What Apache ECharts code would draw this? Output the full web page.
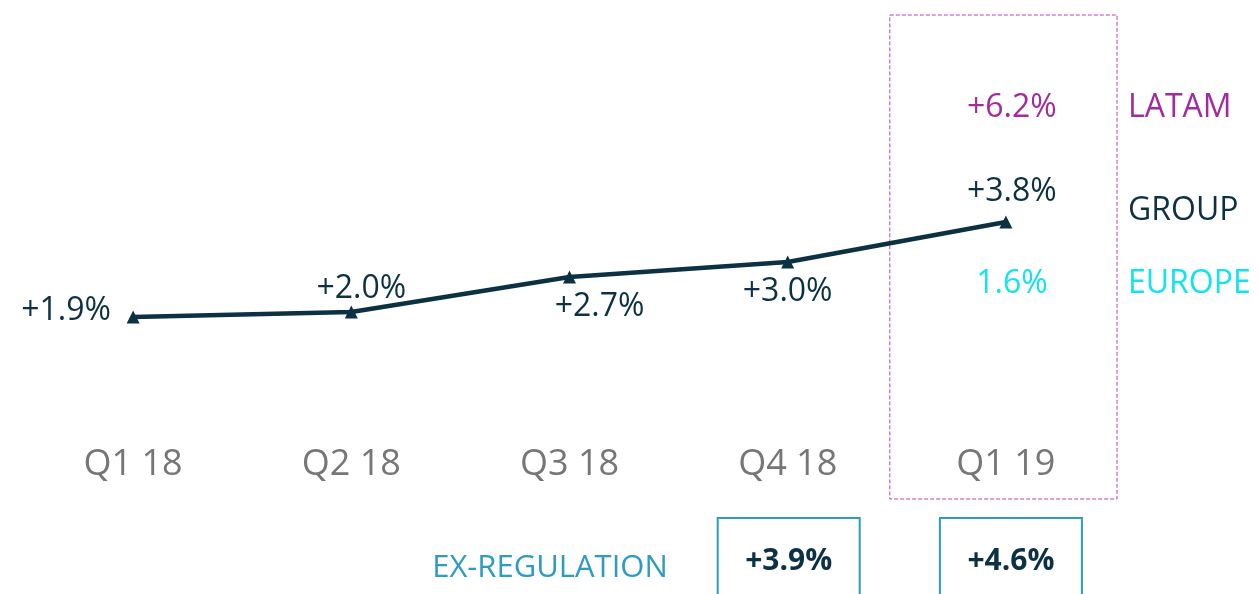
<!DOCTYPE html>
<html>
<head>
<meta charset="utf-8">
<script src="https://cdn.jsdelivr.net/npm/echarts@6/dist/echarts.min.js"></script>
<style>
  html, body { margin: 0; padding: 0; background: #fff; }
  #main { width: 1258px; height: 594px; }
</style>
</head>
<body>
<div id="main"></div>
<script>
// quarters and group growth (%)
const categories = ['Q1 18', 'Q2 18', 'Q3 18', 'Q4 18', 'Q1 19'];
const groupGrowth = [1.9, 2.0, 2.7, 3.0, 3.8];

// Q1 19 split by region
const regionNames = ['LATAM', 'GROUP', 'EUROPE'];
const latamQ119 = 6.2;
const europeQ119 = 1.6;

// ex-regulation growth
const exRegCategories = ['Q4 18', 'Q1 19'];
const exRegValues = [3.9, 4.6];

const dark = '#0b3142';
const purple = '#a12c9f';
const cyan = '#12e3ef';
const blue = '#2f9bc0';
const font = 'Open Sans';

// label placement around each point (dx, dy from the marker)
const labelOffsets = [[-67, -6], [10, -23], [30, 30], [0, 30], [6, -30]];

const fmt = v => '+' + v.toFixed(1) + '%';

const chart = echarts.init(document.getElementById('main'));

const option = {
  animation: false,
  grid: { left: 24, right: 143, top: 12, bottom: 182 },
  xAxis: {
    type: 'category',
    data: categories,
    boundaryGap: true,
    axisLine: { show: false },
    axisTick: { show: false },
    splitLine: { show: false },
    axisLabel: {
      margin: 35,
      fontFamily: font,
      fontSize: 36,
      lineHeight: 36,
      color: '#767676'
    }
  },
  yAxis: {
    type: 'value',
    min: 0,
    max: 8,
    show: false
  },
  series: [
    {
      type: 'line',
      data: groupGrowth.map((v, i) => ({
        value: v,
        label: { offset: labelOffsets[i] }
      })),
      symbol: 'triangle',
      symbolSize: 13,
      lineStyle: { color: dark, width: 4.5 },
      itemStyle: { color: dark },
      label: {
        show: true,
        position: 'inside',
        formatter: p => fmt(p.value),
        fontFamily: font,
        fontSize: 32,
        color: dark
      }
    }
  ]
};

chart.setOption(option);

// annotations placed from axis positions
const q119x = chart.convertToPixel({ xAxisIndex: 0 }, 'Q1 19');
const bandW = chart.convertToPixel({ xAxisIndex: 0 }, 'Q1 19') - chart.convertToPixel({ xAxisIndex: 0 }, 'Q4 18');
const graphics = [];

// dashed box round Q1 19
graphics.push({
  type: 'rect',
  shape: { x: q119x - bandW / 2 - 7, y: 15, width: bandW + 9, height: 484 },
  style: { fill: 'none', stroke: '#b443b2', lineWidth: 1, lineDash: [4, 2] },
  silent: true
});

// region values and names
const regionTexts = [
  { val: fmt(latamQ119), color: purple, y: 108 },
  { val: null, color: dark, y: 211 },
  { val: europeQ119.toFixed(1) + '%', color: cyan, y: 284 }
];
regionTexts.forEach((r, i) => {
  if (r.val) {
    graphics.push({
      type: 'text',
      style: {
        x: q119x + 6, y: r.y, text: r.val,
        font: '32px "' + font + '"', fill: r.color,
        textAlign: 'center', textVerticalAlign: 'middle'
      }
    });
  }
  graphics.push({
    type: 'text',
    style: {
      x: 1128, y: r.y, text: regionNames[i],
      font: '32px "' + font + '"', fill: r.color,
      textAlign: 'left', textVerticalAlign: 'middle'
    }
  });
});

// ex-regulation row
graphics.push({
  type: 'text',
  style: {
    x: 550, y: 568, text: 'EX-REGULATION',
    font: '31px "' + font + '"', fill: blue,
    textAlign: 'center', textVerticalAlign: 'middle'
  }
});
exRegCategories.forEach((c, i) => {
  const cx = chart.convertToPixel({ xAxisIndex: 0 }, c) + (i === 1 ? 5 : 1);
  graphics.push({
    type: 'rect',
    shape: { x: cx - 71, y: 518, width: 142, height: 90 },
    style: { fill: 'none', stroke: blue, lineWidth: 2 }
  });
  graphics.push({
    type: 'text',
    style: {
      x: cx, y: 561, text: fmt(exRegValues[i]),
      font: 'bold 30px "' + font + '"', fill: dark,
      textAlign: 'center', textVerticalAlign: 'middle'
    }
  });
});

chart.setOption({ graphic: graphics });
</script>
</body>
</html>
